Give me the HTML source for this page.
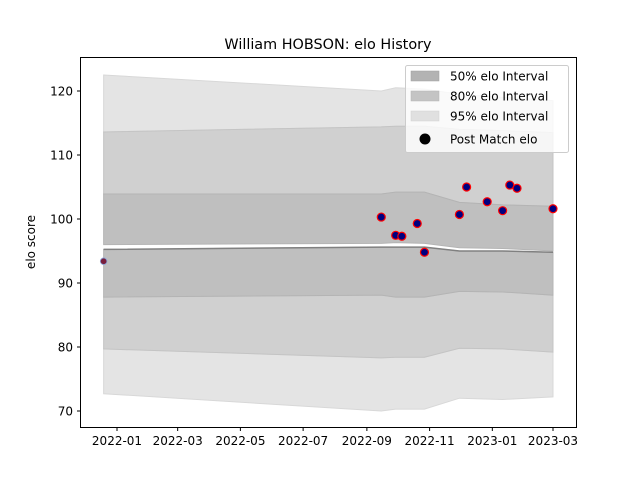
<!DOCTYPE html>
<html><head><meta charset="utf-8"><style>
body{margin:0;background:#fff;}
svg{display:block;font-family:"DejaVu Sans","Liberation Sans",sans-serif;}
</style></head><body>
<svg id="chart" width="640" height="480" viewBox="0 0 640 480">
<rect x="0" y="0" width="640" height="480" fill="#fff"/>
<g id="bands"></g>
<g id="pts"></g>
<rect x="80.5" y="57.5" width="496" height="370" fill="none" stroke="#000" stroke-width="1"/>
<g id="axes"></g>
<text x="328" y="49" font-size="14.4" text-anchor="middle">William HOBSON: elo History</text>
<text transform="translate(35,242) rotate(-90)" font-size="12" text-anchor="middle">elo score</text>
<g>
<rect x="405.5" y="65.5" width="163" height="87" rx="2" fill="#fff" fill-opacity="0.8" stroke="#ccc"/>
<rect x="411" y="71" width="28" height="10" fill="#b3b3b3" stroke="#a0a0a0" stroke-width="0.5"/>
<text x="450" y="80.5" font-size="12">50% elo Interval</text>
<rect x="411" y="91" width="28" height="10" fill="#c4c4c4" stroke="#b5b5b5" stroke-width="0.5"/>
<text x="450" y="100.5" font-size="12">80% elo Interval</text>
<rect x="411" y="111" width="28" height="10" fill="#e0e0e0" stroke="#d0d0d0" stroke-width="0.5"/>
<text x="450" y="120.5" font-size="12">95% elo Interval</text>
<circle cx="425" cy="139" r="5.5" fill="#000"/>
<text x="450" y="143.5" font-size="12">Post Match elo</text>
</g>
</svg>
<script>
const bandDates=["2021-12-19","2022-09-15","2022-09-29","2022-10-27","2022-11-30","2023-01-11","2023-03-01"];
const mean=[95.25,95.6,95.6,95.6,95.0,95.0,94.8];
const upperInner=[96.0,96.2,96.3,96.2,95.5,95.4,95.0];
const u50=[103.9,103.9,104.2,104.2,102.6,102.2,102.0];
const l50=[87.8,88.1,87.8,87.8,88.7,88.6,88.1];
const u80=[113.6,114.4,114.5,114.5,114.0,113.8,113.5];
const l80=[79.7,78.3,78.4,78.4,79.8,79.7,79.2];
const u95=[122.5,120.0,120.5,120.3,119.5,119.0,118.5];
const l95=[72.7,70.0,70.3,70.3,72.0,71.8,72.2];
const matchDates=["2021-12-19","2022-09-15","2022-09-29","2022-10-05","2022-10-20","2022-10-27","2022-11-30","2022-12-07","2022-12-27","2023-01-11","2023-01-18","2023-01-25","2023-03-01"];
const matchElo=[93.4,100.3,97.45,97.3,99.3,94.8,100.7,105.0,102.7,101.3,105.3,104.8,101.6];
const xTicks=["2022-01","2022-03","2022-05","2022-07","2022-09","2022-11","2023-01","2023-03"];
const yTicks=[70,80,90,100,110,120];

const NS="http://www.w3.org/2000/svg";
const t0=Date.UTC(2022,0,1);
function days(s){const p=s.split("-").map(Number);return (Date.UTC(p[0],p[1]-1,p[2]||1)-t0)/864e5;}
function X(s){return 117+days(s)*1.0283;}
function Y(v){return 411-(v-70)*6.4;}
function mk(tag,attrs,parent){const e=document.createElementNS(NS,tag);for(const k in attrs)e.setAttribute(k,attrs[k]);parent.appendChild(e);return e;}
const bands=document.getElementById("bands");
function area(up,lo,fill,stroke,name){
  let d="M"+bandDates.map((s,i)=>X(s)+","+Y(up[i])).join("L");
  d+="L"+bandDates.map((s,i)=>X(s)+","+Y(lo[i])).reverse().join("L")+"Z";
  const p=mk("path",{d:d,fill:fill,stroke:stroke,"stroke-width":1},bands);
  
  
}
area(u95,u80,"#e4e4e4","#d8d8d8","band-95-upper");
area(l80,l95,"#e4e4e4","#d8d8d8","band-95-lower");
area(u80,u50,"#d0d0d0","#c4c4c4","band-80-upper");
area(l50,l80,"#d0d0d0","#c4c4c4","band-80-lower");
area(u50,upperInner,"#bfbfbf","#b4b4b4","band-50-upper");
area(mean,l50,"#bfbfbf","#b4b4b4","band-50-lower");
const ml=mk("polyline",{points:bandDates.map((s,i)=>X(s)+","+Y(mean[i])).join(" "),fill:"none",stroke:"#808080","stroke-width":1.5},bands);


const pts=document.getElementById("pts");
matchDates.forEach((s,i)=>{
  const first=i===0;
  const c=mk("circle",{cx:X(s),cy:Y(matchElo[i]),r:first?3.3:4,fill:first?"#7a1f3d":"#00007f",stroke:first?"#8aa4d8":"#ff0000","stroke-width":first?0.8:1.2},pts);
  
  
});
const axes=document.getElementById("axes");
xTicks.forEach(s=>{
  const x=X(s);
  const l=mk("line",{x1:x,x2:x,y1:427.5,y2:431,stroke:"#000"},axes);
  
  
  const t=mk("text",{x:x,y:445,"font-size":12,"text-anchor":"middle"},axes);
  t.textContent=s;
  
  
});
yTicks.forEach(v=>{
  const y=Y(v);
  const l=mk("line",{x1:77,x2:80.5,y1:y,y2:y,stroke:"#000"},axes);
  
  
  const t=mk("text",{x:73,y:y+4.5,"font-size":12,"text-anchor":"end"},axes);
  t.textContent=v;
  
  
});
</script>
</body></html>
